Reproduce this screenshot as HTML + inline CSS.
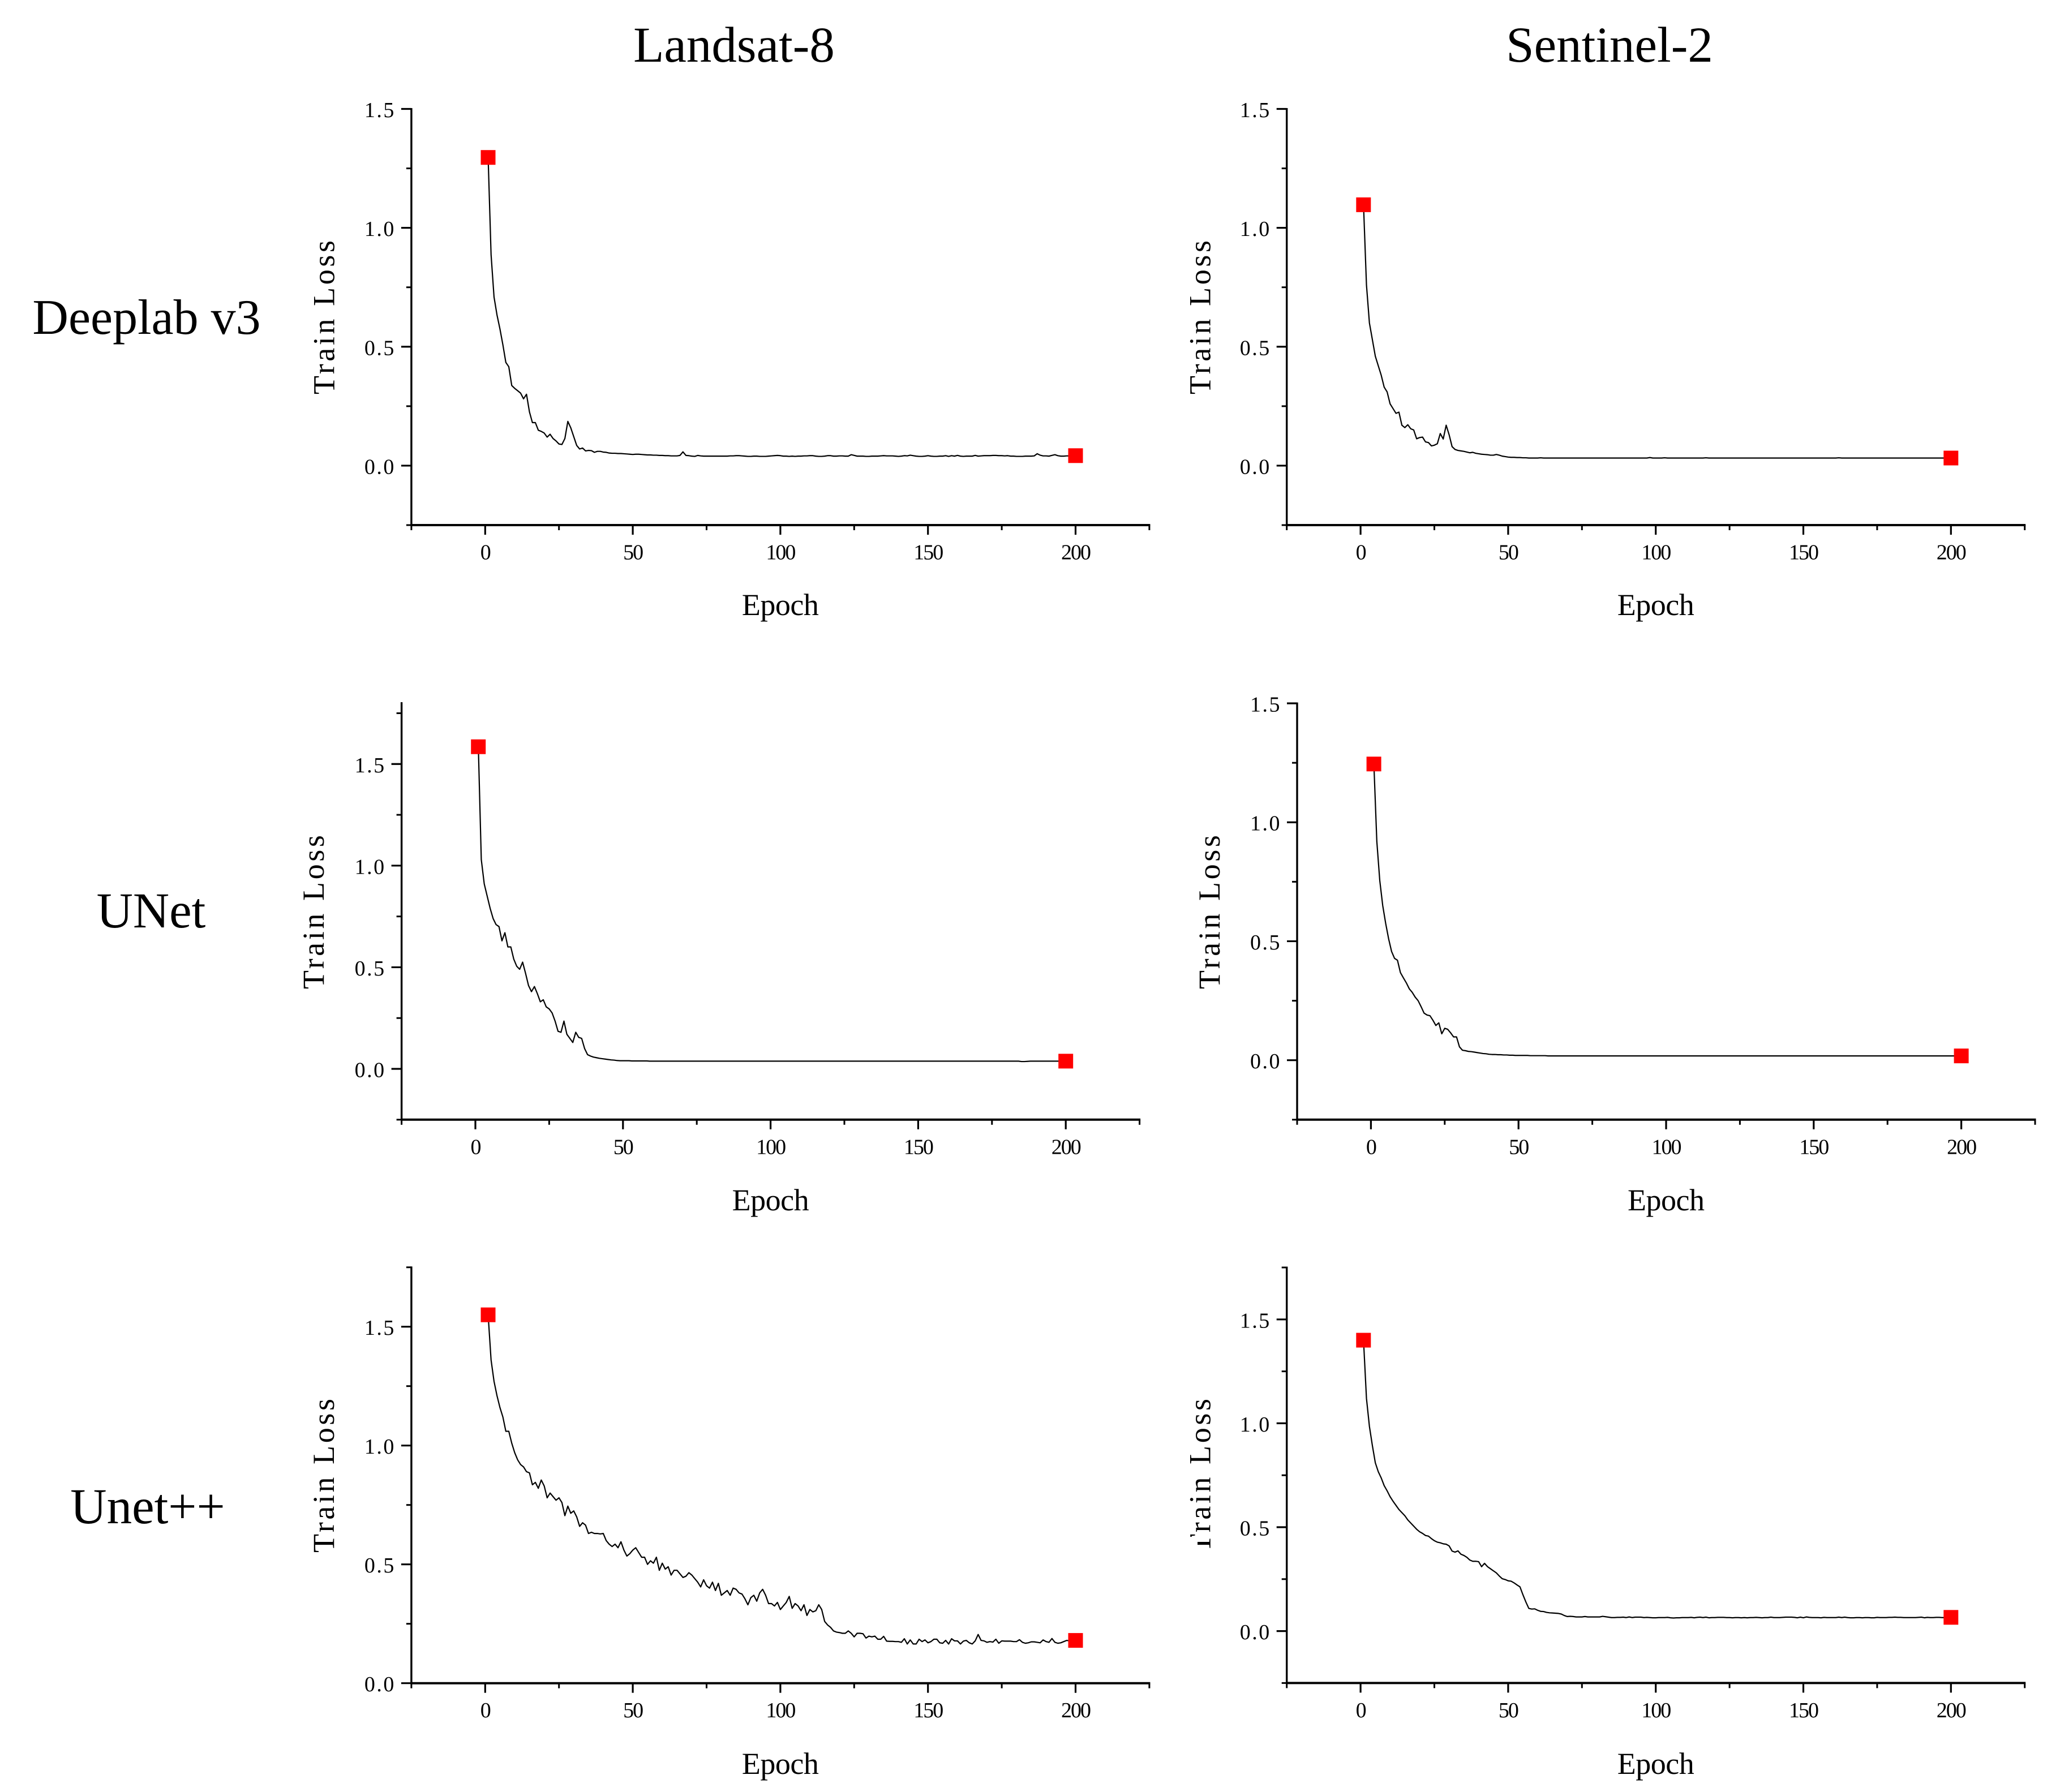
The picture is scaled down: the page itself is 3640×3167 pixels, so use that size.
<!DOCTYPE html>
<html lang="en">
<head>
<meta charset="utf-8">
<title>Train loss curves</title>
<style>
html,body{margin:0;padding:0;background:#fff;}
svg{display:block;}
text{font-family:"Liberation Serif","Noto Serif CJK SC",serif;fill:#000;}
</style>
</head>
<body>
<svg id="chart" xmlns="http://www.w3.org/2000/svg" width="3640" height="3167" viewBox="0 0 3640 3167">
<rect x="0" y="0" width="3640" height="3167" fill="#fff"/>
<text x="1297" y="109" font-size="89" text-anchor="middle">Landsat-8</text>
<text x="2844" y="109" font-size="89" text-anchor="middle">Sentinel-2</text>
<text x="259" y="590" font-size="88" text-anchor="middle">Deeplab v3</text>
<text x="267" y="1639" font-size="89" text-anchor="middle">UNet</text>
<text x="261" y="2692" font-size="89" text-anchor="middle">Unet++</text>
</svg>
<script>
const xTickValues = [0, 50, 100, 150, 200];
const xTickLabels = ["0", "50", "100", "150", "200"];
const xMinorValues = [-25, 25, 75, 125, 175, 225];
const xDomain = [-25, 225];

const yTicksStandard = [0, 0.5, 1.0, 1.5];
const yTickLabelsStandard = ["0.0", "0.5", "1.0", "1.5"];
const yMinorLower = [-0.25, 0.25, 0.75, 1.25];
const yMinorUpper = [-0.25, 0.25, 0.75, 1.25, 1.75];
const yMinorNoNegative = [0.25, 0.75, 1.25, 1.75];

const deeplabLandsat = [
1.296,.887,.709,.634,.575,.508,.434,.416,.337,.325,
.315,.305,.281,.30,.226,.181,.181,.149,.144,.137,
.12,.132,.114,.104,.091,.089,.114,.186,.159,.122,
.085,.07,.074,.062,.064,.063,.056,.06,.06,.057,
.056,.053,.052,.052,.051,.051,.05,.049,.048,.047,
.048,.048,.047,.046,.045,.045,.044,.044,.043,.043,
.042,.042,.041,.041,.041,.043,.058,.043,.042,.04,
.039,.043,.041,.04,.04,.04,.04,.04,.04,.04,
.04,.04,.041,.041,.042,.042,.041,.04,.039,.039,
.04,.04,.039,.039,.039,.04,.041,.042,.043,.042,
.04,.04,.039,.04,.039,.04,.04,.041,.041,.042,
.042,.04,.039,.039,.04,.042,.042,.04,.04,.041,
.041,.04,.04,.046,.043,.04,.04,.04,.039,.039,
.04,.04,.04,.041,.042,.041,.041,.041,.04,.039,
.04,.042,.041,.044,.042,.04,.039,.039,.04,.042,
.04,.039,.039,.04,.04,.042,.039,.042,.04,.043,
.04,.039,.04,.04,.04,.043,.04,.041,.042,.042,
.042,.043,.043,.042,.042,.041,.042,.04,.04,.039,
.039,.039,.04,.04,.04,.041,.05,.044,.041,.041,
.04,.043,.046,.042,.04,.04,.041,.041,.042,.042];

const deeplabSentinel = [
1.097,.76,.60,.53,.46,.42,.38,.33,.31,.26,
.24,.22,.225,.17,.16,.172,.155,.15,.113,.118,
.12,.10,.097,.083,.086,.092,.135,.112,.17,.13,
.08,.068,.064,.062,.06,.057,.054,.056,.052,.05,
.048,.047,.046,.044,.044,.047,.044,.04,.038,.036,
.035,.035,.034,.034,.033,.033,.032,.032,.032,.032,
.033,.032,.032,.032,.032,.032,.032,.032,.032,.032,
.032,.032,.032,.032,.032,.032,.032,.032,.032,.032,
.032,.032,.032,.032,.032,.032,.032,.032,.032,.032,
.032,.032,.032,.032,.032,.032,.032,.034,.032,.032,
.032,.032,.033,.032,.032,.032,.032,.032,.032,.032,
.032,.032,.032,.032,.032,.032,.033,.032,.032,.032,
.032,.032,.032,.032,.032,.032,.032,.032,.032,.032,
.032,.032,.032,.032,.032,.032,.032,.032,.032,.032,
.032,.032,.032,.032,.032,.032,.032,.032,.032,.032,
.032,.032,.032,.032,.032,.032,.032,.032,.032,.032,
.032,.033,.032,.032,.032,.032,.032,.032,.032,.032,
.032,.032,.032,.032,.032,.032,.032,.032,.032,.032,
.032,.032,.032,.032,.032,.032,.032,.032,.032,.032,
.032,.032,.032,.032,.032,.032,.032,.032,.032,.032];

const unetLandsat = [
1.585,1.03,.91,.85,.79,.74,.71,.70,.63,.67,
.60,.60,.54,.505,.49,.525,.47,.41,.38,.405,
.37,.33,.34,.305,.295,.275,.235,.185,.18,.235,
.17,.15,.13,.18,.155,.15,.10,.07,.063,.058,
.055,.052,.05,.048,.046,.044,.043,.041,.04,.04,
.04,.04,.039,.039,.039,.039,.039,.039,.038,.038,
.038,.038,.038,.038,.038,.038,.038,.038,.038,.038,
.038,.038,.038,.038,.038,.038,.038,.038,.038,.038,
.038,.038,.038,.038,.038,.038,.038,.038,.038,.038,
.038,.038,.038,.038,.038,.038,.038,.038,.038,.038,
.038,.038,.038,.038,.038,.038,.038,.038,.038,.038,
.038,.038,.038,.038,.038,.038,.038,.038,.038,.038,
.038,.038,.038,.038,.038,.038,.038,.038,.038,.038,
.038,.038,.038,.038,.038,.038,.038,.038,.038,.038,
.038,.038,.038,.038,.038,.038,.038,.038,.038,.038,
.038,.038,.038,.038,.038,.038,.038,.038,.038,.038,
.038,.038,.038,.038,.038,.038,.038,.038,.038,.038,
.038,.038,.038,.038,.038,.038,.038,.038,.038,.038,
.038,.038,.038,.038,.036,.036,.037,.038,.038,.038,
.038,.038,.038,.038,.038,.038,.038,.038,.038,.038];

const unetSentinel = [
1.245,.92,.755,.65,.575,.51,.457,.428,.42,.368,
.346,.325,.30,.285,.265,.25,.225,.198,.19,.187,
.168,.146,.157,.111,.134,.13,.115,.098,.098,.056,
.042,.04,.037,.036,.034,.032,.03,.028,.027,.025,
.024,.024,.023,.023,.022,.022,.021,.021,.02,.02,
.02,.02,.02,.019,.019,.019,.019,.019,.019,.018,
.018,.018,.018,.018,.018,.018,.018,.018,.018,.018,
.018,.018,.018,.018,.018,.018,.018,.018,.018,.018,
.018,.018,.018,.018,.018,.018,.018,.018,.018,.018,
.018,.018,.018,.018,.018,.018,.018,.018,.018,.018,
.018,.018,.018,.018,.018,.018,.018,.018,.018,.018,
.018,.018,.018,.018,.018,.018,.018,.018,.018,.018,
.018,.018,.018,.018,.018,.018,.018,.018,.018,.018,
.018,.018,.018,.018,.018,.018,.018,.018,.018,.018,
.018,.018,.018,.018,.018,.018,.018,.018,.018,.018,
.018,.018,.018,.018,.018,.018,.018,.018,.018,.018,
.018,.018,.018,.018,.018,.018,.018,.018,.018,.018,
.018,.018,.018,.018,.018,.018,.018,.018,.018,.018,
.018,.018,.018,.018,.018,.018,.018,.018,.018,.018,
.018,.018,.018,.018,.018,.018,.018,.018,.018,.018];

const unetPlusLandsat = [
1.55,1.36,1.27,1.21,1.16,1.12,1.06,1.06,1.01,.97,
.94,.92,.91,.89,.885,.835,.845,.82,.855,.83,
.78,.80,.785,.77,.78,.76,.705,.745,.715,.725,
.70,.66,.675,.665,.63,.635,.63,.63,.628,.63,
.60,.585,.575,.585,.57,.595,.56,.535,.545,.56,
.57,.55,.53,.53,.50,.515,.505,.53,.475,.505,
.48,.49,.455,.475,.475,.46,.445,.45,.465,.455,
.44,.425,.405,.435,.41,.40,.425,.39,.42,.37,
.38,.39,.37,.40,.395,.38,.375,.355,.33,.36,
.37,.345,.38,.395,.37,.335,.335,.325,.34,.31,
.325,.34,.365,.315,.335,.325,.305,.33,.285,.31,
.30,.305,.33,.31,.26,.245,.235,.22,.215,.213,
.21,.21,.22,.21,.195,.21,.21,.208,.19,.198,
.195,.198,.185,.185,.197,.177,.176,.176,.175,.175,
.172,.187,.165,.182,.165,.165,.185,.175,.182,.17,
.175,.185,.185,.17,.168,.18,.165,.187,.178,.178,
.165,.177,.18,.17,.165,.178,.205,.18,.178,.172,
.175,.173,.185,.168,.178,.177,.177,.177,.175,.175,
.183,.172,.168,.17,.174,.174,.172,.17,.182,.175,
.172,.188,.172,.168,.17,.175,.18,.178,.178,.18];

const unetPlusSentinel = [
1.40,1.12,.985,.893,.81,.767,.737,.70,.675,.647,
.625,.605,.585,.57,.555,.535,.52,.505,.49,.478,
.47,.46,.457,.445,.435,.428,.425,.42,.418,.41,
.385,.38,.386,.37,.364,.355,.342,.336,.336,.334,
.31,.326,.31,.30,.29,.28,.265,.252,.248,.242,
.24,.232,.222,.213,.175,.14,.109,.106,.107,.10,
.095,.094,.09,.088,.087,.086,.085,.082,.075,.07,
.071,.07,.068,.068,.068,.07,.068,.068,.068,.068,
.068,.071,.069,.067,.065,.065,.066,.066,.067,.065,
.068,.065,.067,.067,.067,.065,.066,.065,.064,.064,
.065,.065,.065,.066,.064,.063,.064,.064,.065,.065,
.065,.066,.064,.066,.067,.065,.067,.064,.065,.065,
.066,.066,.066,.065,.065,.064,.065,.065,.064,.065,
.064,.065,.065,.066,.065,.064,.065,.065,.067,.065,
.065,.065,.066,.067,.067,.067,.066,.064,.067,.064,
.068,.066,.065,.065,.065,.064,.066,.065,.065,.065,
.065,.067,.065,.067,.065,.064,.064,.065,.065,.064,
.065,.065,.064,.064,.066,.065,.065,.065,.066,.066,
.067,.066,.066,.065,.065,.065,.065,.065,.066,.067,
.064,.066,.065,.065,.066,.066,.065,.065,.065,.066];

const panels = [
  {id:"deeplab-landsat", series:deeplabLandsat, yDomain:[-0.25,1.5], yTicks:yTicksStandard, yLabels:yTickLabelsStandard, yMinor:yMinorLower,
   left:726.9, top:192.5, bottom:928, titleX:590.5, titleY:561, epochY:1087},
  {id:"deeplab-sentinel", series:deeplabSentinel, yDomain:[-0.25,1.5], yTicks:yTicksStandard, yLabels:yTickLabelsStandard, yMinor:yMinorLower,
   left:2273.7, top:192.5, bottom:928, titleX:2138.5, titleY:561, epochY:1087},
  {id:"unet-landsat", series:unetLandsat, yDomain:[-0.25,1.8], yTicks:yTicksStandard, yLabels:yTickLabelsStandard, yMinor:yMinorUpper,
   left:709.6, top:1242.5, bottom:1978.8, titleX:572, titleY:1612, epochY:2139},
  {id:"unet-sentinel", series:unetSentinel, yDomain:[-0.25,1.5], yTicks:yTicksStandard, yLabels:yTickLabelsStandard, yMinor:yMinorLower,
   left:2292, top:1243, bottom:1978.8, titleX:2155, titleY:1612, epochY:2139},
  {id:"unetpp-landsat", series:unetPlusLandsat, yDomain:[0,1.75], yTicks:yTicksStandard, yLabels:yTickLabelsStandard, yMinor:yMinorNoNegative,
   left:726.9, top:2239.7, bottom:2974.7, titleX:590, titleY:2608, epochY:3135},
  {id:"unetpp-sentinel", series:unetPlusSentinel, yDomain:[-0.25,1.75], yTicks:yTicksStandard, yLabels:yTickLabelsStandard, yMinor:yMinorNoNegative.concat([-0.25]),
   left:2273.7, top:2240, bottom:2974.4, titleX:2138.5, titleY:2608, epochY:3135, titleClip:{x:2100, y:2716, width:16, height:30}}
];

const PLOT_WIDTH = 1304;
const NS = "http://www.w3.org/2000/svg";
const svg = document.getElementById("chart");

function make(parent, tag, attrs, text) {
  const el = document.createElementNS(NS, tag);
  for (const k in attrs) el.setAttribute(k, attrs[k]);
  if (text !== undefined) el.textContent = text;
  parent.appendChild(el);
  return el;
}

panels.forEach(function (p) {
  const xs = function (v) { return p.left + (v - xDomain[0]) / (xDomain[1] - xDomain[0]) * PLOT_WIDTH; };
  const ys = function (v) { return p.bottom - (v - p.yDomain[0]) / (p.yDomain[1] - p.yDomain[0]) * (p.bottom - p.top); };
  const right = p.left + PLOT_WIDTH;

  const g = make(svg, "g", {});
  
  

  const axisY = make(g, "line", {x1:p.left, y1:p.top - 1.5, x2:p.left, y2:p.bottom + 1.5, stroke:"#000", "stroke-width":3.4});
  
  

  const axisX = make(g, "line", {x1:p.left - 1.5, y1:p.bottom, x2:right + 1.5, y2:p.bottom, stroke:"#000", "stroke-width":4});
  
  

  xTickValues.forEach(function (v, i) {
    const t = make(g, "line", {x1:xs(v), y1:p.bottom, x2:xs(v), y2:p.bottom + 17, stroke:"#000", "stroke-width":3.2});
    
    
    const lab = make(g, "text", {x:xs(v), y:p.bottom + 60.5, "font-size":38, "text-anchor":"middle", "letter-spacing":-2}, xTickLabels[i]);
    
    
  });
  xMinorValues.forEach(function (v) {
    const t = make(g, "line", {x1:xs(v), y1:p.bottom, x2:xs(v), y2:p.bottom + 9, stroke:"#000", "stroke-width":3});
    
    
  });

  p.yTicks.forEach(function (v, i) {
    const t = make(g, "line", {x1:p.left - 18, y1:ys(v), x2:p.left, y2:ys(v), stroke:"#000", "stroke-width":3.2});
    
    
    const lab = make(g, "text", {x:p.left - 28, y:ys(v) + 14.5, "font-size":38, "text-anchor":"end", "letter-spacing":2.5}, p.yLabels[i]);
    
    
  });
  p.yMinor.forEach(function (v) {
    const t = make(g, "line", {x1:p.left - 9, y1:ys(v), x2:p.left, y2:ys(v), stroke:"#000", "stroke-width":3});
    
    
  });

  const yTitle = make(g, "text", {x:0, y:0, "font-size":54, "text-anchor":"middle", textLength:272, lengthAdjust:"spacing",
    transform:"translate(" + p.titleX + "," + p.titleY + ") rotate(-90)"}, "Train Loss");
  
  

  if (p.titleClip) {
    const mask = make(g, "rect", {x:p.titleClip.x, y:p.titleClip.y, width:p.titleClip.width, height:p.titleClip.height, fill:"#fff"});
    
    
  }

  const xTitle = make(g, "text", {x:(p.left + right) / 2, y:p.epochY, "font-size":54, "text-anchor":"middle", textLength:136, lengthAdjust:"spacing"}, "Epoch");
  
  

  const pts = p.series.map(function (v, i) { return xs(i + 1).toFixed(2) + "," + ys(v).toFixed(2); }).join(" ");
  const line = make(g, "polyline", {points:pts, fill:"none", stroke:"#000", "stroke-width":2.2, "stroke-linejoin":"round"});
  
  

  const ends = [0, p.series.length - 1];
  ends.forEach(function (i) {
    const m = make(g, "rect", {x:xs(i + 1) - 13, y:ys(p.series[i]) - 13, width:26, height:26, fill:"#ff0000"});
    
    
  });
});
</script>
</body>
</html>
